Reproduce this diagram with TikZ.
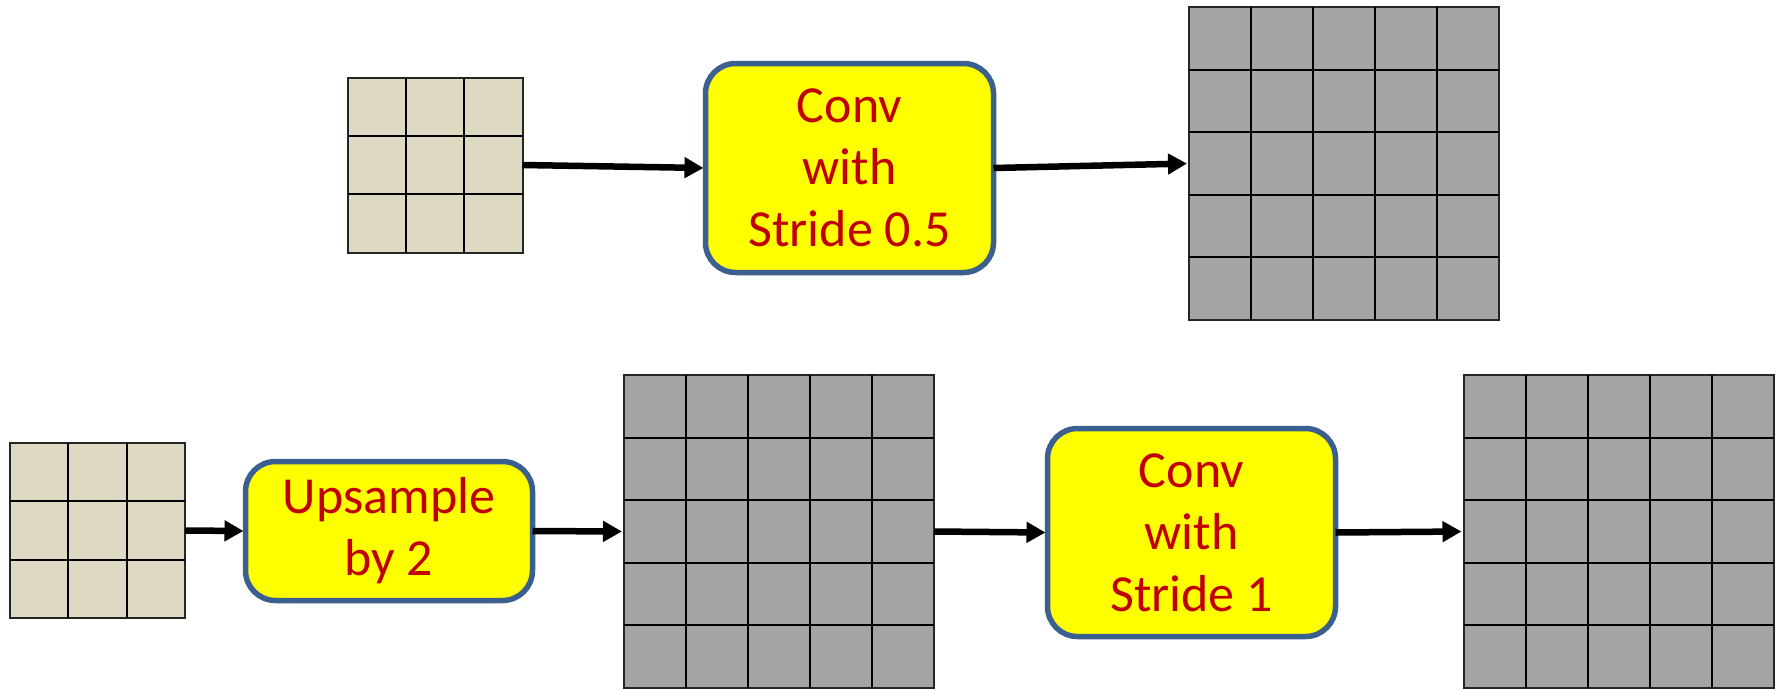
\documentclass[tikz,border=0pt]{standalone}
\usepackage{fontspec}
\setmainfont{Carlito}
\usetikzlibrary{arrows.meta,calc}

\definecolor{mapsmall}{HTML}{DDD9C3}
\definecolor{mapbig}{HTML}{A5A5A5}
\definecolor{opfill}{HTML}{FFFF00}
\definecolor{opedge}{HTML}{3B5F8F}
\definecolor{optext}{HTML}{C00000}

% inner lines of a feature map: node name, cells per side
\newcommand{\cellgrid}[2]{%
  \pgfmathtruncatemacro{\lastk}{#2-1}
  \foreach \k in {1,...,\lastk} {
    \draw ($(#1.north west)!\k/#2!(#1.north east)$) -- ($(#1.south west)!\k/#2!(#1.south east)$);
    \draw ($(#1.north west)!\k/#2!(#1.south west)$) -- ($(#1.north east)!\k/#2!(#1.south east)$);
  }}

\begin{document}
\begin{tikzpicture}[x=1pt,y=-1pt,line width=2pt,>={Triangle[length=19pt,width=20pt]},
  smallmap/.style={draw=black!85,fill=mapsmall,minimum width=175pt,minimum height=175pt,
    anchor=north west,inner sep=0pt,outer sep=0pt},
  bigmap/.style={draw=black!85,fill=mapbig,minimum width=310pt,minimum height=313pt,
    anchor=north west,inner sep=0pt,outer sep=0pt},
  op/.style={draw=opedge,line width=5.5pt,fill=opfill,rounded corners=30pt,text=optext,
    align=center,font=\fontsize{52}{62}\selectfont,anchor=north west,inner sep=0pt,outer sep=0pt},
  flow/.style={->,line width=6.5pt,shorten >=2pt}]
  \useasboundingbox (0,0) rectangle (1781,689);

  % conv with fractional stride
  \node[smallmap] (in1) at (347.5,77.5) {};
  \node[op,minimum width=288pt,minimum height=209pt] (conv1) at (705.5,63.5) {Conv\\with\\Stride 0.5};
  \node[bigmap] (out1) at (1189,7) {};
  \cellgrid{in1}{3}
  \cellgrid{out1}{5}
  \draw[flow] (in1.east) -- (conv1.west);
  \draw[flow] (conv1.east) -- (out1.west);

  % upsample, then conv with stride 1
  \node[smallmap] (in2) at (10,443) {};
  \node[op,minimum width=287pt,minimum height=139pt] (up2) at (245.5,461.5) {Upsample\\by 2};
  \node[bigmap] (mid2) at (624,375) {};
  \node[op,minimum width=288pt,minimum height=208pt] (conv2) at (1047.5,428.5) {Conv\\with\\Stride 1};
  \node[bigmap] (out2) at (1463.5,375) {};
  \cellgrid{in2}{3}
  \cellgrid{mid2}{5}
  \cellgrid{out2}{5}
  \draw[flow] (in2.east) -- (up2.west);
  \draw[flow] (up2.east) -- (mid2.west);
  \draw[flow] (mid2.east) -- (conv2.west);
  \draw[flow] (conv2.east) -- (out2.west);
\end{tikzpicture}
\end{document}
